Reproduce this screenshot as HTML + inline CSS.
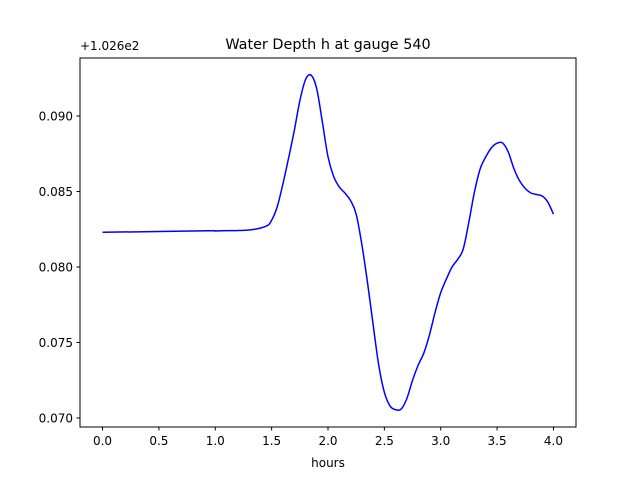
<!DOCTYPE html>
<html><head><meta charset="utf-8"><style>
html,body{margin:0;padding:0;background:#fff;}
svg{display:block;font-family:"DejaVu Sans","Liberation Sans",sans-serif;}
</style></head><body>
<svg id="chart" width="640" height="480">
<rect width="640" height="480" fill="#fff"/>
<text x="328" y="49" text-anchor="middle" font-size="14.4">Water Depth h at gauge 540</text>
<text x="80" y="50" font-size="12">+1.026e2</text>
<text x="328" y="467" text-anchor="middle" font-size="12">hours</text>
<g id="ticks"></g>
<path id="series" fill="none" stroke="#0000ff" stroke-width="1.5"/>
<rect x="80" y="58" width="496" height="369" fill="none" stroke="#000" stroke-width="1"/>
</svg>
<script>
const hours=[0,0.5,0.95,1.0,1.05,1.3,1.45,1.5,1.55,1.6,1.65,1.7,1.75,1.8,1.85,1.9,1.95,2.0,2.05,2.1,2.15,2.2,2.25,2.3,2.35,2.4,2.45,2.5,2.55,2.6,2.65,2.7,2.75,2.8,2.85,2.9,2.95,3.0,3.05,3.1,3.15,3.2,3.25,3.3,3.35,3.4,3.45,3.5,3.55,3.6,3.65,3.7,3.75,3.8,3.85,3.9,3.95,4.0];
const depth=[0.0823,0.08235,0.0824,0.08238,0.0824,0.08245,0.0827,0.0831,0.0840,0.0855,0.0872,0.0890,0.0910,0.0924,0.0927,0.0918,0.0896,0.0873,0.0860,0.0853,0.0849,0.0844,0.0835,0.0815,0.0790,0.0762,0.0735,0.0717,0.0708,0.07055,0.0706,0.0713,0.0725,0.0735,0.0743,0.0755,0.0770,0.0783,0.0792,0.0800,0.0805,0.0812,0.0830,0.0850,0.0865,0.0873,0.0879,0.0882,0.0882,0.0876,0.0865,0.0857,0.0852,0.0849,0.0848,0.0847,0.0843,0.0835];
const xTicks=[0,0.5,1.0,1.5,2.0,2.5,3.0,3.5,4.0];
const xTickLabels=["0.0","0.5","1.0","1.5","2.0","2.5","3.0","3.5","4.0"];
const yTicks=[0.070,0.075,0.080,0.085,0.090];
const yTickLabels=["0.070","0.075","0.080","0.085","0.090"];
const X=v=>80+(v+0.2)/4.4*496;
const Y=v=>116+(0.090-v)*15100;
const NS="http://www.w3.org/2000/svg";
const g=document.getElementById('ticks');
function mk(tag,attrs){const e=document.createElementNS(NS,tag);for(const k in attrs)e.setAttribute(k,attrs[k]);return e;}
xTicks.forEach((t,i)=>{
  const l=mk('line',{x1:X(t),x2:X(t),y1:427,y2:430.5,stroke:'#000'});
  
  
  g.appendChild(l);
  const tx=mk('text',{x:X(t),y:445,'text-anchor':'middle','font-size':12});
  tx.textContent=xTickLabels[i];
  
  
  g.appendChild(tx);
});
yTicks.forEach((t,i)=>{
  const l=mk('line',{x1:76.5,x2:80,y1:Y(t),y2:Y(t),stroke:'#000'});
  
  
  g.appendChild(l);
  const tx=mk('text',{x:73,y:Y(t)+4.5,'text-anchor':'end','font-size':12});
  tx.textContent=yTickLabels[i];
  
  
  g.appendChild(tx);
});
// smooth path via Catmull-Rom
const pts=hours.map((h,i)=>[X(h),Y(depth[i])]);
let d='M'+pts[0][0]+','+pts[0][1];
for(let i=0;i<pts.length-1;i++){
  const p0=pts[i-1]||pts[i],p1=pts[i],p2=pts[i+1],p3=pts[i+2]||p2;
  const c1=[p1[0]+(p2[0]-p0[0])/6,p1[1]+(p2[1]-p0[1])/6];
  const c2=[p2[0]-(p3[0]-p1[0])/6,p2[1]-(p3[1]-p1[1])/6];
  d+=' C'+c1+' '+c2+' '+p2;
}
document.getElementById('series').setAttribute('d',d);
</script>
</body></html>
